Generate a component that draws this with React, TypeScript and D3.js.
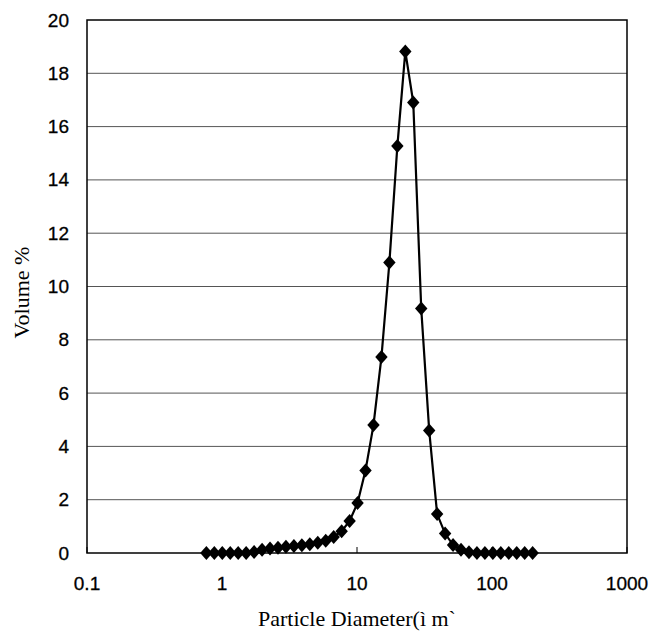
import React from "react";
import * as d3 from "d3";

const diameters: number[] = [
  0.766, 0.877, 1.005, 1.151, 1.318, 1.51, 1.729, 1.981, 2.269, 2.599, 2.976,
  3.409, 3.905, 4.472, 5.122, 5.867, 6.72, 7.697, 8.816, 10.097, 11.565,
  13.246, 15.172, 17.377, 19.904, 22.797, 26.111, 29.907, 34.255, 39.234,
  44.938, 51.471, 58.953, 67.523, 77.339, 88.583, 101.46, 116.21, 133.1,
  152.45, 174.62, 200.0,
];
const volumes: number[] = [
  0, 0, 0, 0, 0, 0, 0.04, 0.12, 0.17, 0.2, 0.23, 0.26, 0.29, 0.33, 0.38, 0.46,
  0.6, 0.82, 1.2, 1.88, 3.1, 4.8, 7.35, 10.9, 15.27, 18.82, 16.9, 9.17, 4.6,
  1.46, 0.73, 0.3, 0.12, 0.03, 0, 0, 0, 0, 0, 0, 0, 0,
];
const xTicks: number[] = [0.1, 1, 10, 100, 1000];
const xTickLabels: string[] = ["0.1", "1", "10", "100", "1000"];
const yTicks: number[] = [0, 2, 4, 6, 8, 10, 12, 14, 16, 18, 20];
const xTitle = "Particle Diameter(ì m`";
const yTitle = "Volume %";

const W = 651;
const H = 632;
const L = 87;
const R = 627;
const T = 20;
const B = 553;

export default function App() {
  const x = d3.scaleLog().domain([0.1, 1000]).range([L, R]);
  const y = d3.scaleLinear().domain([0, 20]).range([B, T]);
  const pts = diameters.map((d, i) => [d, volumes[i]] as [number, number]);
  const line = d3
    .line<[number, number]>()
    .x((d) => x(d[0]))
    .y((d) => y(d[1]));
  const diamond = "M0,-7L6.2,0L0,7L-6.2,0Z";
  const sans = "'Liberation Sans', Arial, sans-serif";
  const serif = "'Liberation Serif', 'Times New Roman', serif";
  return (
    <svg
      width={W}
      height={H}
      style={{ position: "absolute", left: 0, top: 0, background: "#fff" }}
    >
      <rect x={0} y={0} width={W} height={H} fill="#fff" />
      {yTicks.map((t) =>
        t === 0 || t === 20 ? null : (
          <line
            key={"g" + t}
            x1={L}
            x2={R}
            y1={y(t)}
            y2={y(t)}
            stroke="#555"
            strokeWidth={1}
          />
        )
      )}
      <rect
        x={L}
        y={T}
        width={R - L}
        height={B - T}
        fill="none"
        stroke="#000"
        strokeWidth={1.5}
      />
      {xTicks.map((t) => (
        <line
          key={"xt" + t}
          x1={x(t)}
          x2={x(t)}
          y1={B}
          y2={B - 6}
          stroke="#000"
          strokeWidth={1}
        />
      ))}
      {yTicks.map((t) => (
        <text
          key={"yl" + t}
          x={69}
          y={y(t)}
          textAnchor="end"
          dominantBaseline="central"
          fontFamily={sans}
          fontSize={19}
          fill="#000"
          stroke="#000"
          strokeWidth={0.3}
        >
          {t}
        </text>
      ))}
      {xTicks.map((t, i) => (
        <text
          key={"xl" + t}
          x={x(t)}
          y={583}
          textAnchor="middle"
          dominantBaseline="central"
          fontFamily={sans}
          fontSize={19}
          fill="#000"
          stroke="#000"
          strokeWidth={0.3}
        >
          {xTickLabels[i]}
        </text>
      ))}
      <path d={line(pts) || ""} fill="none" stroke="#000" strokeWidth={2.2} />
      {pts.map((p, i) => (
        <path
          key={"p" + i}
          d={diamond}
          transform={`translate(${x(p[0])},${y(p[1])})`}
          fill="#000"
        />
      ))}
      <text
        x={357}
        y={626}
        textAnchor="middle"
        fontFamily={serif}
        fontSize={22}
        fill="#000"
      >
        {xTitle}
      </text>
      <text
        transform={`translate(29,${(T + B) / 2 + 6}) rotate(-90)`}
        textAnchor="middle"
        fontFamily={serif}
        fontSize={22}
        fill="#000"
      >
        {yTitle}
      </text>
    </svg>
  );
}
